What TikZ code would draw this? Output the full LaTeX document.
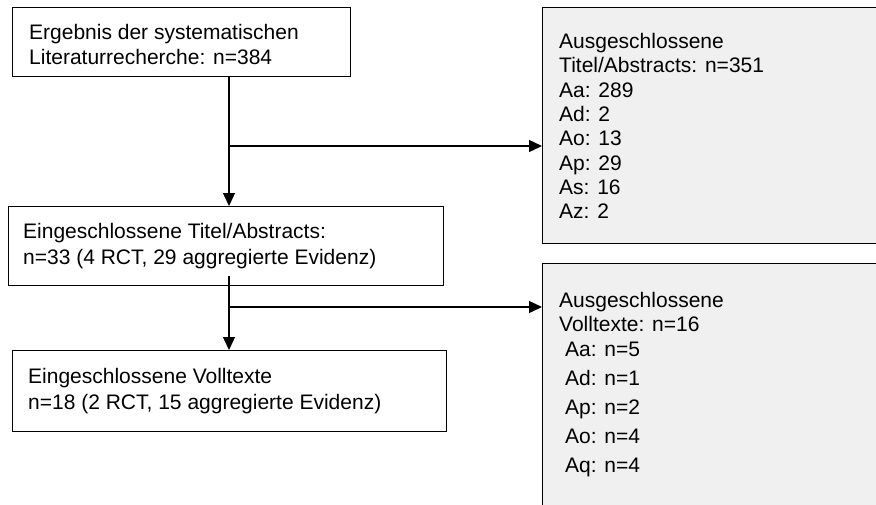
\documentclass[tikz,border=0pt]{standalone}
\usepackage{fontspec}
\setmainfont{Liberation Sans}
\usetikzlibrary{arrows.meta}
\definecolor{panel}{HTML}{F0F0F0}
\tikzset{
  stage/.style={draw=black, line width=0.9pt, fill=white, anchor=north west,
    inner sep=0pt, outer sep=0pt},
  excl/.style={stage, fill=panel},
  txt/.style={anchor=base west, inner sep=0pt, font=\fontsize{21}{25}\selectfont},
  flow/.style={line width=1.4pt, -{Triangle[length=13pt,width=12pt]}},
}
\begin{document}
\begin{tikzpicture}[x=1pt, y=-1pt]
  \useasboundingbox (0,0) rectangle (876,504);
  \clip (0,0) rectangle (876,504);

  % stages of the selection
  \node[stage, minimum width=338pt, minimum height=69pt] (b1) at (12,7) {};
  \node[stage, minimum width=435pt, minimum height=79pt] (b2) at (8,206) {};
  \node[stage, minimum width=434pt, minimum height=81pt] (b4) at (12,350) {};
  % exclusion panels on the right
  \node[excl, minimum width=345pt, minimum height=236pt] (b3) at (542,7) {};
  \node[excl, minimum width=345pt, minimum height=260pt] (b5) at (542,263) {};

  % texts of the stages
  \node[txt] (t1a) at (29,39.5) {Ergebnis der systematischen};
  \node[txt] (t1b) at (29,64.5) {Literaturrecherche: n=384};
  \node[txt] (t2a) at (23,238.5) {Eingeschlossene Titel/Abstracts:};
  \node[txt] (t2b) at (23,264.5) {n=33 (4 RCT, 29 aggregierte Evidenz)};
  \node[txt] (t4a) at (28,383.5) {Eingeschlossene Volltexte};
  \node[txt] (t4b) at (28,409.5) {n=18 (2 RCT, 15 aggregierte Evidenz)};

  % excluded titles/abstracts
  \foreach \line [count=\k from 0] in
      {Ausgeschlossene, Titel/Abstracts: n=351, Aa: 289, Ad: 2, Ao: 13, Ap: 29, As: 16, Az: 2}
    \node[txt] (e\k) at (559,48.5+24.3*\k) {\line};

  % excluded full texts
  \node[txt] (f0) at (559,307.5) {Ausgeschlossene};
  \node[txt] (f1) at (559,331.5) {Volltexte: n=16};
  \foreach \line [count=\k from 0] in {Aa: n=5, Ad: n=1, Ap: n=2, Ao: n=4, Aq: n=4}
    \node[txt] (g\k) at (565,356.5+29*\k) {\line};

  % connectors
  \coordinate (trunk) at (229,0);
  \coordinate (j1) at (229,146);
  \coordinate (j2) at (229,307);
  \draw[flow] (b1.south -| trunk) -- (b2.north -| trunk);
  \draw[flow] (j1) -- (j1 -| b3.west);
  \draw[flow] ([yshift=9pt]b2.south -| trunk) -- (b4.north -| trunk);
  \draw[flow] (j2) -- (j2 -| b5.west);
\end{tikzpicture}
\end{document}
